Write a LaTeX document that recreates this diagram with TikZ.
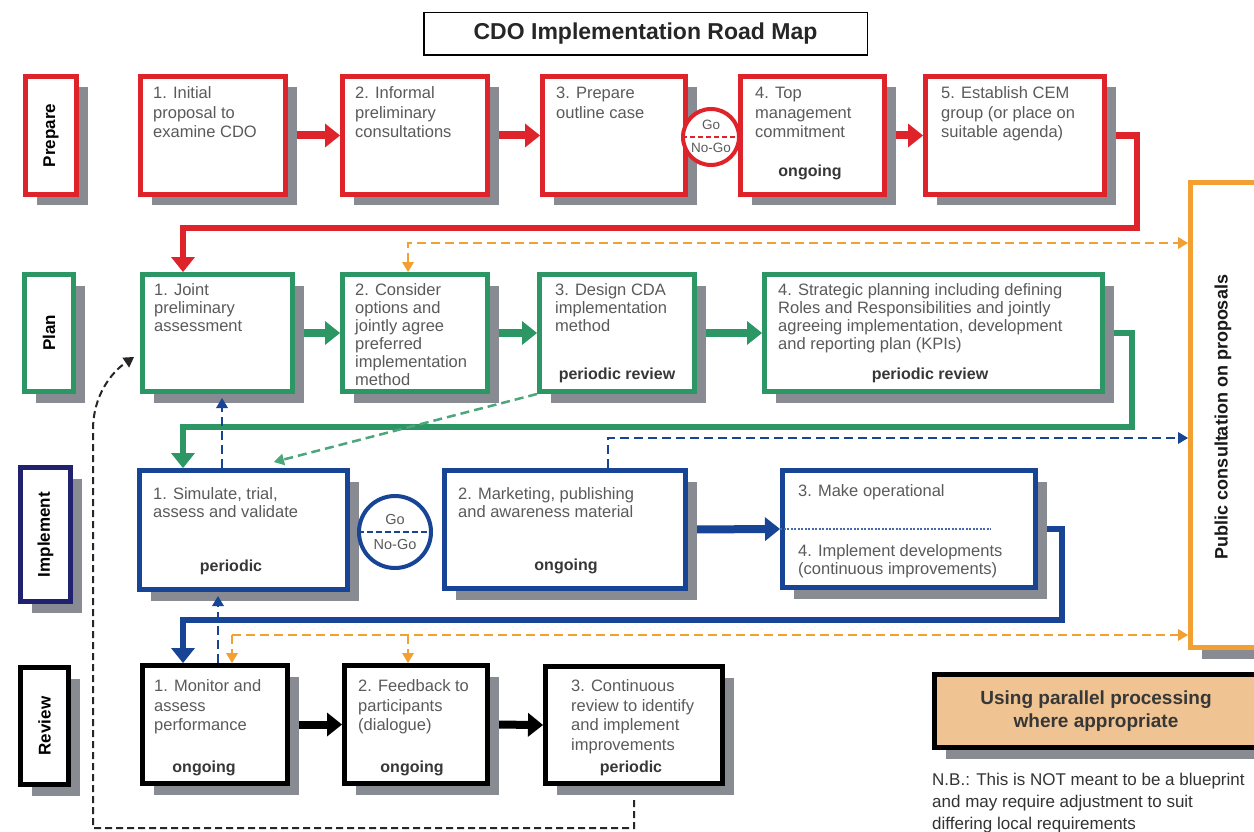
\documentclass[tikz,border=0pt]{standalone}
\usepackage{fontspec}
\setmainfont{Liberation Sans}
\usetikzlibrary{arrows.meta,shadows,calc}
\pgfdeclarelayer{bg}
\pgfdeclarelayer{conn}
\pgfsetlayers{bg,conn,main}
\definecolor{cred}{RGB}{222,36,42}
\definecolor{cgreen}{RGB}{44,150,100}
\definecolor{cblue}{RGB}{24,68,150}
\definecolor{cnavy}{RGB}{32,34,112}
\definecolor{corange}{RGB}{242,160,50}
\definecolor{shadowc}{RGB}{136,139,146}
\definecolor{ctan}{RGB}{240,196,146}
\definecolor{textc}{RGB}{90,90,90}
\definecolor{labc}{RGB}{55,55,55}
\tikzset{
  box/.style={draw=#1, line width=5pt, fill=white, inner sep=0pt,
    drop shadow={shadow xshift=11pt, shadow yshift=-11pt, fill=shadowc, opacity=1}},
  body/.style={inner sep=0pt, align=left, anchor=north west, text=textc, font=\fontsize{16.5}{#1}\selectfont},
  body/.default=19,
  note/.style={inner sep=0pt, text=labc, font=\bfseries\fontsize{16}{19}\selectfont},
  rowlab/.style={inner sep=0pt, rotate=90, text=black, font=\bfseries\fontsize{17}{19}\selectfont},
  bigtip/.tip={Triangle[width=24pt,length=15pt,line width=0pt]},
  stip/.tip={Triangle[width=12pt,length=10pt,line width=0pt]},
  bigarr/.style={draw=#1, line width=8pt, -bigtip},
  route/.style={draw=#1, line width=6.5pt, -bigtip},
  dashconn/.style={draw=#1, line width=2.5pt, dash pattern=on 9pt off 5pt},
  gotext/.style={inner sep=0pt, text=textc, font=\fontsize{13.5}{15}\selectfont},
}
\newcommand\bx[7][]{\node[box=#3, minimum width={(#6-#4-5)*1pt}, minimum height={(#7-#5-5)*1pt}, #1] (#2) at ({(#4+#6)/2},{(#5+#7)/2}) {};}
\begin{document}
\begin{tikzpicture}[x=1pt,y=-1pt]
\useasboundingbox (0,0) rectangle (1254,832);
\clip (0,0) rectangle (1254,832);
\begin{pgfonlayer}{bg}
\fill[white] (0,0) rectangle (1254,832);
\end{pgfonlayer}
% title
\node[draw=black, line width=1.5pt, minimum width=443.5pt, minimum height=42.5pt, inner sep=0pt,
  font=\bfseries\fontsize{23}{26}\selectfont, text=black!85] (title) at (645.5,34) {CDO Implementation Road Map};
% ---------- Prepare row
\bx{Lprep}{cred}{23}{74}{79}{197}
\node[rowlab] (tprep) at (Lprep) {Prepare};
\bx{p1}{cred}{138}{74}{288}{197}
\bx{p2}{cred}{340}{74}{490}{197}
\bx{p3}{cred}{540}{74}{688}{197}
\bx{p4}{cred}{738}{74}{887}{197}
\bx{p5}{cred}{923}{74}{1107}{197}
\node[body=19.5] (p1t) at (153,85) {\strut 1. Initial\\proposal to\\examine CDO};
\node[body=19.5] (p2t) at (355,85) {\strut 2. Informal\\preliminary\\consultations};
\node[body=19.5] (p3t) at (556,85) {\strut 3. Prepare\\outline case};
\node[body=19.5] (p4t) at (755,85) {\strut 4. Top\\management\\commitment};
\node[body=19.5] (p5t) at (941,85) {\strut 5. Establish CEM\\group (or place on\\suitable agenda)};
\node[note] (p4n) at (810,172) {ongoing};
% ---------- Plan row
\bx{Lplan}{cgreen}{22}{272}{76}{394}
\node[rowlab] (tplan) at (Lplan) {Plan};
\bx{q1}{cgreen}{140}{272}{295}{394}
\bx{q2}{cgreen}{340}{272}{490}{394}
\bx{q3}{cgreen}{537}{272}{697}{394}
\bx{q4}{cgreen}{762}{272}{1105}{394}
\node[body=18] (q1t) at (154,283) {\strut 1. Joint\\preliminary\\assessment};
\node[body=18] (q2t) at (355,283) {\strut 2. Consider\\options and\\jointly agree\\preferred\\implementation\\method};
\node[body=18] (q3t) at (555,283) {\strut 3. Design CDA\\implementation\\method};
\node[body=18] (q4t) at (778,283) {\strut 4. Strategic planning including defining\\Roles and Responsibilities and jointly\\agreeing implementation, development\\and reporting plan (KPIs)};
\node[note] (q3n) at (617,375) {periodic review};
\node[note] (q4n) at (930,375) {periodic review};
% ---------- Implement row
\bx{Limpl}{cnavy}{18}{465}{73}{604}
\node[rowlab] (timpl) at (Limpl) {Implement};
\bx{i1}{cblue}{137}{468}{350}{592}
\bx{i2}{cblue}{442}{468}{688}{591}
\bx{i3}{cblue}{780}{468}{1038}{590}
\node[body=18.5] (i1t) at (153,486) {\strut 1. Simulate, trial,\\assess and validate};
\node[body=18.5] (i2t) at (458,486) {\strut 2. Marketing, publishing\\and awareness material};
\node[body=18.5] (i3t) at (798,483) {\strut 3. Make operational};
\node[body=18.5] (i4t) at (798,543) {\strut 4. Implement developments\\(continuous improvements)};
\draw[cblue!80, line width=1.5pt, dash pattern=on 2pt off 1.5pt] (i3.west) -- ++(211,0);
\node[note] (i1n) at (231,567) {periodic};
\node[note] (i2n) at (566,566) {ongoing};
% ---------- Review row
\bx{Lrev}{black}{18}{665}{71}{787}
\node[rowlab] (trev) at (Lrev) {Review};
\bx{r1}{black}{140}{663}{290}{786}
\bx{r2}{black}{342}{663}{490}{786}
\bx{r3}{black}{543}{664}{725}{786}
\node[body=19.5] (r1t) at (154,678) {\strut 1. Monitor and\\assess\\performance};
\node[body=19.5] (r2t) at (358,678) {\strut 2. Feedback to\\participants\\(dialogue)};
\node[body=19.5] (r3t) at (571,678) {\strut 3. Continuous\\review to identify\\and implement\\improvements};
\node[note] (r1n) at (204,768) {ongoing};
\node[note] (r2n) at (412,768) {ongoing};
\node[note] (r3n) at (631,768) {periodic};
% ---------- side boxes
\bx{pub}{corange}{1188}{180}{1272}{650}
\node[inner sep=0pt, rotate=90, font=\bfseries\fontsize{18}{20}\selectfont, text=black!90] (pubt) at (1223,417) {Public consultation on proposals};
\bx[fill=ctan]{par}{black}{932}{672}{1275}{750}
\node[inner sep=0pt, align=center, font=\bfseries\fontsize{19}{23}\selectfont, text=labc] (part) at (1096,711) {Using parallel processing\\where appropriate};
\node[inner sep=0pt, align=left, anchor=north west, font=\fontsize{17}{22}\selectfont, text=black!80] (nb) at (932,770) {\strut N.B.: This is NOT meant to be a blueprint\\and may require adjustment to suit\\differing local requirements};
% ---------- Go / No-Go
\node[circle, draw=cred, line width=4pt, fill=white, minimum size=56pt, inner sep=0pt] (g1) at (711,137) {};
\draw[cred, line width=2pt, dash pattern=on 5pt off 3pt] ([xshift=-29pt]g1.center) -- ([xshift=31pt]g1.center);
\node[gotext] (g1a) at ([yshift=12pt]g1.center) {Go};
\node[gotext] (g1b) at ([yshift=-11pt]g1.center) {No-Go};
\node[circle, draw=cblue, line width=4pt, fill=white, minimum size=72pt, inner sep=0pt] (g2) at (395,532) {};
\draw[cblue, line width=2pt, dash pattern=on 6pt off 3pt] ([xshift=-37pt]g2.center) -- ([xshift=37pt]g2.center);
\node[gotext, font=\fontsize{14.5}{16}\selectfont] (g2a) at ([yshift=12pt]g2.center) {Go};
\node[gotext, font=\fontsize{14.5}{16}\selectfont] (g2b) at ([yshift=-13pt]g2.center) {No-Go};
% ---------- solid connectors (behind boxes)
\coordinate (rA) at (1137,228); \coordinate (rB) at (183,228);
\coordinate (gA) at (1132,427); \coordinate (gB) at (183,427);
\coordinate (bA) at (1062,620); \coordinate (bB) at (183,620);
\begin{pgfonlayer}{conn}
\draw[bigarr=cred] (p1.east) -- (p2.west);
\draw[bigarr=cred] (p2.east) -- (p3.west);
\draw[bigarr=cred] (p4.east) -- (p5.west);
\draw[bigarr=cgreen] (q1.east) -- (q2.west);
\draw[bigarr=cgreen] (q2.east) -- (q3.west);
\draw[bigarr=cgreen] (q3.east) -- (q4.west);
\draw[bigarr=cblue] (i2.east) -- (i3.west);
\draw[bigarr=black] (r1.east) -- (r2.west);
\draw[bigarr=black] (r2.east) -- (r3.west);
\draw[route=cred] (p5.east) -| (rA) -- (rB) -- (rB |- q1.north);
\draw[route=cgreen] (q4.east) -| (gA) -- (gB) -- (gB |- i1.north);
\draw[route=cblue] (i3.east) -| (bA) -- (bB) -- (bB |- r1.north);
\end{pgfonlayer}
% ---------- dashed connectors
\coordinate (o1) at (408,243);
\draw[dashconn=corange, stip-stip] (o1 |- q2.north) -- (o1) -- (o1 -| pub.west);
\coordinate (o2) at (232,635); \coordinate (o3) at (408,635);
\draw[dashconn=corange, -stip] (o2) -- (o2 -| pub.west);
\draw[dashconn=corange, -stip] (o2) -- (o2 |- r1.north);
\draw[dashconn=corange, -stip] (o3) -- (o3 |- r2.north);
\coordinate (b1) at (608,438);
\draw[dashconn=cblue, -stip] (b1 |- i2.north) -- (b1) -- (b1 -| pub.west);
\coordinate (b2) at (222,0);
\draw[dashconn=cblue, -stip] (b2 |- i1.north) -- ($(b2 |- q1.south)+(0,4)$);
\coordinate (b3) at (218,0);
\draw[dashconn=cblue, -stip] (b3 |- r1.north) -- ($(b3 |- i1.south)+(0,4)$);
\coordinate (gd) at (274,0);
\draw[dashconn=cgreen!85!white, -stip] (q3.south west) -- ($(gd |- i1.north)+(0,-6)$);
\coordinate (k1) at (0,828); \coordinate (k2) at (93,828); \coordinate (k3) at (93,430);
\draw[dashconn=black!85, line width=2pt, dash pattern=on 7pt off 4pt, -stip] ($(r3.south)+(0,14)$) -- (r3.south |- k1) -- (k2) -- (k3) .. controls (93,395) and (112,372) .. ($(q1.west)+(-6,24)$);
\end{tikzpicture}
\end{document}
